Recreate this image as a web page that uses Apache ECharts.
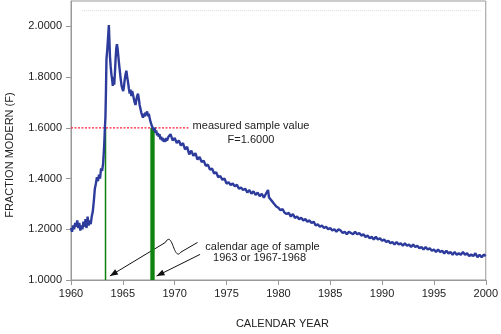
<!DOCTYPE html>
<html>
<head>
<meta charset="utf-8">
<script src="https://cdn.jsdelivr.net/npm/echarts@6/dist/echarts.min.js"></script>
<style>
  body { margin: 0; background: #fff; }
  #chart { width: 501px; height: 334px; }
</style>
</head>
<body>
<div id="chart"></div>
<script>
// bomb-curve readings [calendar year, fraction modern]
var rise = [
  [1960.0, 1.205], [1960.1, 1.19], [1960.2, 1.215], [1960.3, 1.20], [1960.4, 1.225],
  [1960.5, 1.21], [1960.6, 1.235], [1960.7, 1.205], [1960.8, 1.225], [1960.9, 1.195],
  [1961.0, 1.215], [1961.1, 1.20], [1961.2, 1.23], [1961.3, 1.21], [1961.4, 1.24],
  [1961.5, 1.205], [1961.6, 1.25], [1961.7, 1.215], [1961.8, 1.235], [1961.9, 1.22],
  [1962.0, 1.25], [1962.1, 1.27], [1962.2, 1.31], [1962.3, 1.36], [1962.4, 1.38],
  [1962.5, 1.405], [1962.6, 1.39], [1962.7, 1.415], [1962.8, 1.40], [1962.9, 1.44],
  [1963.0, 1.43], [1963.1, 1.46], [1963.2, 1.53], [1963.27, 1.60], [1963.32, 1.64]
];
var peaks = [
  [1963.37, 1.74], [1963.42, 1.87], [1963.5, 1.91], [1963.58, 1.96], [1963.65, 2.005],
  [1963.7, 1.95], [1963.76, 1.88], [1963.83, 1.84], [1963.9, 1.81], [1963.97, 1.79],
  [1964.03, 1.765], [1964.1, 1.80], [1964.17, 1.77], [1964.24, 1.82], [1964.3, 1.87],
  [1964.37, 1.915], [1964.43, 1.93], [1964.5, 1.91], [1964.57, 1.88], [1964.64, 1.85],
  [1964.72, 1.82], [1964.8, 1.79], [1964.88, 1.765], [1964.95, 1.77], [1965.03, 1.745],
  [1965.1, 1.76], [1965.18, 1.79], [1965.26, 1.81], [1965.34, 1.825], [1965.42, 1.80],
  [1965.5, 1.78], [1965.58, 1.755], [1965.66, 1.735], [1965.74, 1.75], [1965.82, 1.725],
  [1965.9, 1.745], [1965.98, 1.73], [1966.06, 1.715], [1966.14, 1.70], [1966.22, 1.69],
  [1966.3, 1.71], [1966.38, 1.725], [1966.46, 1.735], [1966.54, 1.715], [1966.62, 1.69],
  [1966.7, 1.675], [1966.78, 1.66], [1966.86, 1.65], [1966.94, 1.64]
];
var decline = [
  [1967.02, 1.655], [1967.1, 1.645], [1967.18, 1.66], [1967.26, 1.65], [1967.34, 1.665],
  [1967.42, 1.645], [1967.5, 1.655], [1967.58, 1.64], [1967.66, 1.625], [1967.74, 1.615],
  [1967.82, 1.605], [1967.9, 1.60], [1967.98, 1.59], [1968.06, 1.60], [1968.14, 1.58],
  [1968.22, 1.59], [1968.3, 1.57], [1968.38, 1.58], [1968.46, 1.565], [1968.54, 1.575],
  [1968.62, 1.555], [1968.7, 1.565], [1968.78, 1.55], [1968.86, 1.56], [1968.94, 1.545],
  [1969.02, 1.555], [1969.1, 1.545], [1969.18, 1.56], [1969.26, 1.55]
];
var tail = [
  [1969.4, 1.565], [1969.6, 1.575], [1969.8, 1.55], [1970.0, 1.56], [1970.2, 1.54],
  [1970.4, 1.55], [1970.6, 1.53], [1970.8, 1.54], [1971.0, 1.515], [1971.2, 1.525],
  [1971.4, 1.495], [1971.6, 1.51], [1971.8, 1.49], [1972.0, 1.50], [1972.2, 1.475],
  [1972.4, 1.485], [1972.6, 1.465], [1972.8, 1.47], [1973.0, 1.45], [1973.2, 1.455],
  [1973.4, 1.435], [1973.6, 1.44], [1973.8, 1.42], [1974.0, 1.425], [1974.2, 1.405],
  [1974.4, 1.41], [1974.6, 1.395], [1974.8, 1.40], [1975.0, 1.38], [1975.2, 1.385],
  [1975.4, 1.375], [1975.6, 1.38], [1975.8, 1.37], [1976.0, 1.375], [1976.2, 1.36],
  [1976.4, 1.365], [1976.6, 1.355], [1976.8, 1.36], [1977.0, 1.345], [1977.2, 1.355],
  [1977.4, 1.34], [1977.6, 1.35], [1977.8, 1.335], [1978.0, 1.345], [1978.2, 1.33],
  [1978.4, 1.34], [1978.6, 1.325], [1978.8, 1.34], [1979.0, 1.355], [1979.1, 1.325],
  [1979.2, 1.32], [1979.4, 1.31], [1979.6, 1.30], [1979.8, 1.29], [1980.0, 1.285],
  [1980.2, 1.275], [1980.4, 1.28], [1980.6, 1.265], [1980.8, 1.26], [1981.0, 1.265],
  [1981.2, 1.25], [1981.4, 1.26], [1981.6, 1.245], [1981.8, 1.25], [1982.0, 1.24],
  [1982.2, 1.245], [1982.4, 1.235], [1982.6, 1.24], [1982.8, 1.23], [1983.0, 1.235],
  [1983.2, 1.225], [1983.4, 1.23], [1983.6, 1.215], [1983.8, 1.22], [1984.0, 1.21],
  [1984.2, 1.215], [1984.4, 1.205], [1984.6, 1.21], [1984.8, 1.20], [1985.0, 1.205],
  [1985.2, 1.195], [1985.4, 1.20], [1985.6, 1.19], [1985.8, 1.20], [1986.0, 1.195],
  [1986.2, 1.185], [1986.4, 1.19], [1986.6, 1.18], [1986.8, 1.19], [1987.0, 1.185],
  [1987.2, 1.18], [1987.4, 1.19], [1987.6, 1.18], [1987.8, 1.185], [1988.0, 1.175],
  [1988.2, 1.18], [1988.4, 1.17], [1988.6, 1.175], [1988.8, 1.165], [1989.0, 1.17],
  [1989.2, 1.16], [1989.4, 1.17], [1989.6, 1.16], [1989.8, 1.165], [1990.0, 1.155],
  [1990.2, 1.16], [1990.4, 1.15], [1990.6, 1.155], [1990.8, 1.145], [1991.0, 1.15],
  [1991.2, 1.14], [1991.4, 1.15], [1991.6, 1.14], [1991.8, 1.145], [1992.0, 1.135],
  [1992.2, 1.145], [1992.4, 1.135], [1992.6, 1.14], [1992.8, 1.13], [1993.0, 1.14],
  [1993.2, 1.13], [1993.4, 1.135], [1993.6, 1.125], [1993.8, 1.13], [1994.0, 1.12],
  [1994.2, 1.13], [1994.4, 1.12], [1994.6, 1.125], [1994.8, 1.115], [1995.0, 1.12],
  [1995.2, 1.11], [1995.4, 1.12], [1995.6, 1.11], [1995.8, 1.115], [1996.0, 1.105],
  [1996.2, 1.115], [1996.4, 1.105], [1996.6, 1.11], [1996.8, 1.10], [1997.0, 1.11],
  [1997.2, 1.10], [1997.4, 1.105], [1997.6, 1.10], [1997.8, 1.11], [1998.0, 1.10],
  [1998.2, 1.105], [1998.4, 1.095], [1998.6, 1.10], [1998.8, 1.095], [1999.0, 1.105],
  [1999.2, 1.09], [1999.4, 1.10], [1999.6, 1.09], [1999.8, 1.10], [2000.0, 1.095]
];

// measured sample and the calendar ages it maps to
var sampleF = 1.6;
var sampleLineEnd = 1971.4;
var ageSingle = 1963.33;
var ageRange = [1967.65, 1968.07];
var faintLine = [[1961.05, 2.062], [1999.5, 2.062]];

var font = 'Liberation Sans, Arial, sans-serif';
var chart = echarts.init(document.getElementById('chart'));

var option = {
  animation: false,
  textStyle: { fontFamily: font },
  grid: {
    left: 71, right: 13, top: 1, bottom: 50,
    show: true, borderColor: '#999', borderWidth: 1
  },
  xAxis: {
    type: 'value',
    min: 1960, max: 2000, interval: 5,
    name: 'CALENDAR YEAR',
    nameLocation: 'middle',
    nameGap: 38,
    nameTextStyle: { fontSize: 11, color: '#222', padding: [0, 0, 0, 8] },
    axisLine: { lineStyle: { color: '#999' } },
    axisTick: { length: 5, lineStyle: { color: '#999' } },
    axisLabel: {
      fontSize: 11, color: '#222', margin: 8,
      formatter: function (v) { return String(v); }
    },
    splitLine: { show: false }
  },
  yAxis: {
    type: 'value',
    min: 1.0, max: 2.1, interval: 0.2,
    axisLine: { show: true, lineStyle: { color: '#999' } },
    axisTick: { show: true, length: 5, lineStyle: { color: '#999' } },
    axisLabel: {
      fontSize: 11, color: '#222', margin: 9, showMaxLabel: false,
      formatter: function (v) { return v.toFixed(4); }
    },
    splitLine: { show: false }
  },
  series: [
    {
      type: 'line',
      data: faintLine,
      showSymbol: false,
      lineStyle: { color: '#d9d9d9', width: 1, type: 'dotted' }
    },
    {
      type: 'line',
      data: [[ageSingle, 1.0], [ageSingle, sampleF]],
      showSymbol: false,
      lineStyle: { color: '#0f820f', width: 1.5 },
      markArea: {
        silent: true,
        itemStyle: { color: '#0f820f' },
        data: [[{ coord: [ageRange[0], 1.0] }, { coord: [ageRange[1], sampleF] }]]
      }
    },
    {
      type: 'line',
      data: [[1960, sampleF], [sampleLineEnd, sampleF]],
      showSymbol: false,
      color: '#ff1f3d',
      lineStyle: { color: '#ff1f3d', width: 1.2, type: [2, 1.5] }
    },
    {
      type: 'line',
      data: rise.concat(peaks, decline, tail),
      showSymbol: false,
      lineStyle: { color: '#2d3c9c', width: 2.4 }
    }
  ]
};
option && chart.setOption(option);

// annotations
function px(p) {
  return chart.convertToPixel({ gridIndex: 0 }, p);
}
function head(tip, from) {
  var dx = tip[0] - from[0], dy = tip[1] - from[1];
  var len = Math.sqrt(dx * dx + dy * dy);
  dx /= len; dy /= len;
  var bx = tip[0] - dx * 8, by = tip[1] - dy * 8;
  return {
    type: 'polygon',
    shape: { points: [tip, [bx - dy * 3, by + dx * 3], [bx + dy * 3, by - dx * 3]] },
    style: { fill: '#111' }
  };
}
var aTip = px([1963.75, 1.016]);
var aBend = px([1969.1, 1.148]);
var aCp1 = px([1969.8, 1.20]);
var aCp2 = px([1969.9, 1.07]);
var aOut = px([1970.6, 1.11]);
var aEnd = px([1972.2, 1.148]);
var bTip = px([1968.25, 1.0155]);
var bEnd = px([1972.45, 1.101]);
var lineStyle = { stroke: '#111', lineWidth: 1, fill: null };

function label(text, p) {
  var q = px(p);
  return {
    type: 'text', x: q[0], y: q[1],
    style: {
      text: text, fill: '#222', font: '11px ' + font,
      textAlign: 'center', textVerticalAlign: 'middle'
    }
  };
}

chart.setOption({
  graphic: [
    { type: 'line', shape: { x1: aTip[0], y1: aTip[1], x2: aBend[0], y2: aBend[1] }, style: lineStyle },
    {
      type: 'bezierCurve',
      shape: { x1: aBend[0], y1: aBend[1], cpx1: aCp1[0], cpy1: aCp1[1], cpx2: aCp2[0], cpy2: aCp2[1], x2: aOut[0], y2: aOut[1] },
      style: lineStyle
    },
    { type: 'line', shape: { x1: aOut[0], y1: aOut[1], x2: aEnd[0], y2: aEnd[1] }, style: lineStyle },
    head(aTip, aBend),
    { type: 'line', shape: { x1: bTip[0], y1: bTip[1], x2: bEnd[0], y2: bEnd[1] }, style: lineStyle },
    head(bTip, bEnd),
    label('measured sample value', [1977.36, 1.606]),
    label('F=1.6000', [1977.36, 1.552]),
    label('calendar age of sample', [1978.47, 1.132]),
    label('1963 or 1967-1968', [1978.18, 1.0855]),
    {
      type: 'text', x: 10, y: 155, rotation: Math.PI / 2,
      style: {
        text: 'FRACTION MODERN (F)', fill: '#222', font: '11px ' + font,
        textAlign: 'center', textVerticalAlign: 'middle'
      }
    }
  ]
});
</script>
</body>
</html>
